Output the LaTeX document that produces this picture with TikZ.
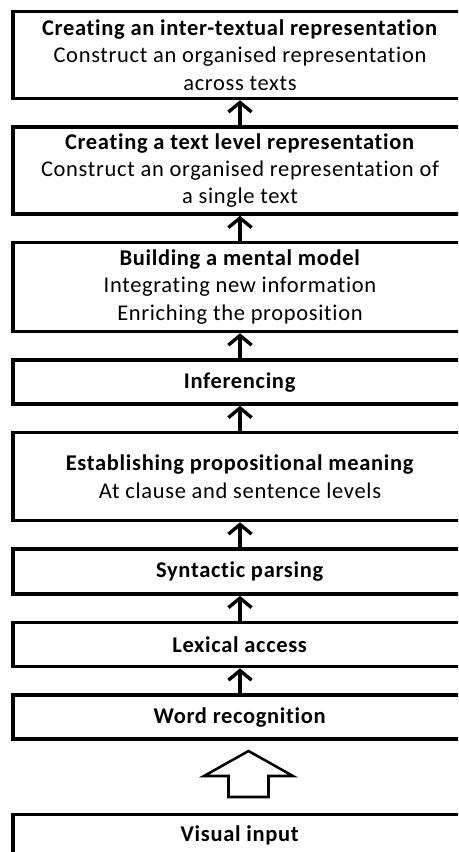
\documentclass[tikz,border=0pt]{standalone}
\usepackage{fontspec}
\setmainfont{Carlito}[Ligatures=NoCommon, LetterSpace=3]
\usetikzlibrary{arrows.meta, positioning}

\begin{document}
\begin{tikzpicture}[node distance=0.625cm,
    stage/.style={draw, line width=2.5pt, minimum width=11.35cm, inner sep=0pt,
      align=center, font=\fontsize{16}{19.5}\selectfont},
    tall/.style={minimum height=2.175cm},
    low/.style={minimum height=1.1cm},
    link/.style={line width=2.4pt, -{Straight Barb[length=0.24cm,width=0.58cm]}}]
    \useasboundingbox (0,0) rectangle (11.45,-21.3);
    \clip (0,0) rectangle (11.45,-21.3);

    \node[stage,tall] (Inter) at (6,-1.375) {\textbf{Creating an inter-textual representation}\\Construct an organised representation\\across texts};
    \node[stage,tall] (Text) [below =of Inter] {\textbf{Creating a text level representation}\\Construct an organised representation of\\a single text};
    \node[stage,minimum height=2.225cm] (Model) [below =of Text] {\textbf{Building a mental model}\\Integrating new information\\Enriching the proposition};
    \node[stage,low] (Infer) [below =of Model] {\textbf{Inferencing}};
    \node[stage,minimum height=2.2cm] (Prop) [below =of Infer] {\textbf{Establishing propositional meaning}\\At clause and sentence levels};
    \node[stage,minimum height=1.125cm] (Syntax) [below =of Prop] {\textbf{Syntactic parsing}};
    \node[stage,low] (Lexical) [below =of Syntax] {\textbf{Lexical access}};
    \node[stage,low] (Word) [below =of Lexical] {\textbf{Word recognition}};
    \node[stage,minimum height=1.05cm] (Visual) [below =1.8cm of Word] {\textbf{Visual input}};

    \path (Text) edge [link] (Inter);
    \path (Model) edge [link] (Text);
    \path (Infer) edge [link] (Model);
    \path (Prop) edge [link] (Infer);
    \path (Syntax) edge [link] (Prop);
    \path (Lexical) edge [link] (Syntax);
    \path (Word) edge [link] (Lexical);

    % open block arrow between input and recognition
    \coordinate (tip) at (6.2125,-18.775);
    \draw[line width=1.8pt, line join=miter] (tip) -- ++(1.1125,-0.625) -- ++(-0.6125,0) -- ++(0,-0.525)
      -- ++(-1,0) -- ++(0,0.525) -- ++(-0.6125,0) -- cycle;
\end{tikzpicture}
\end{document}
